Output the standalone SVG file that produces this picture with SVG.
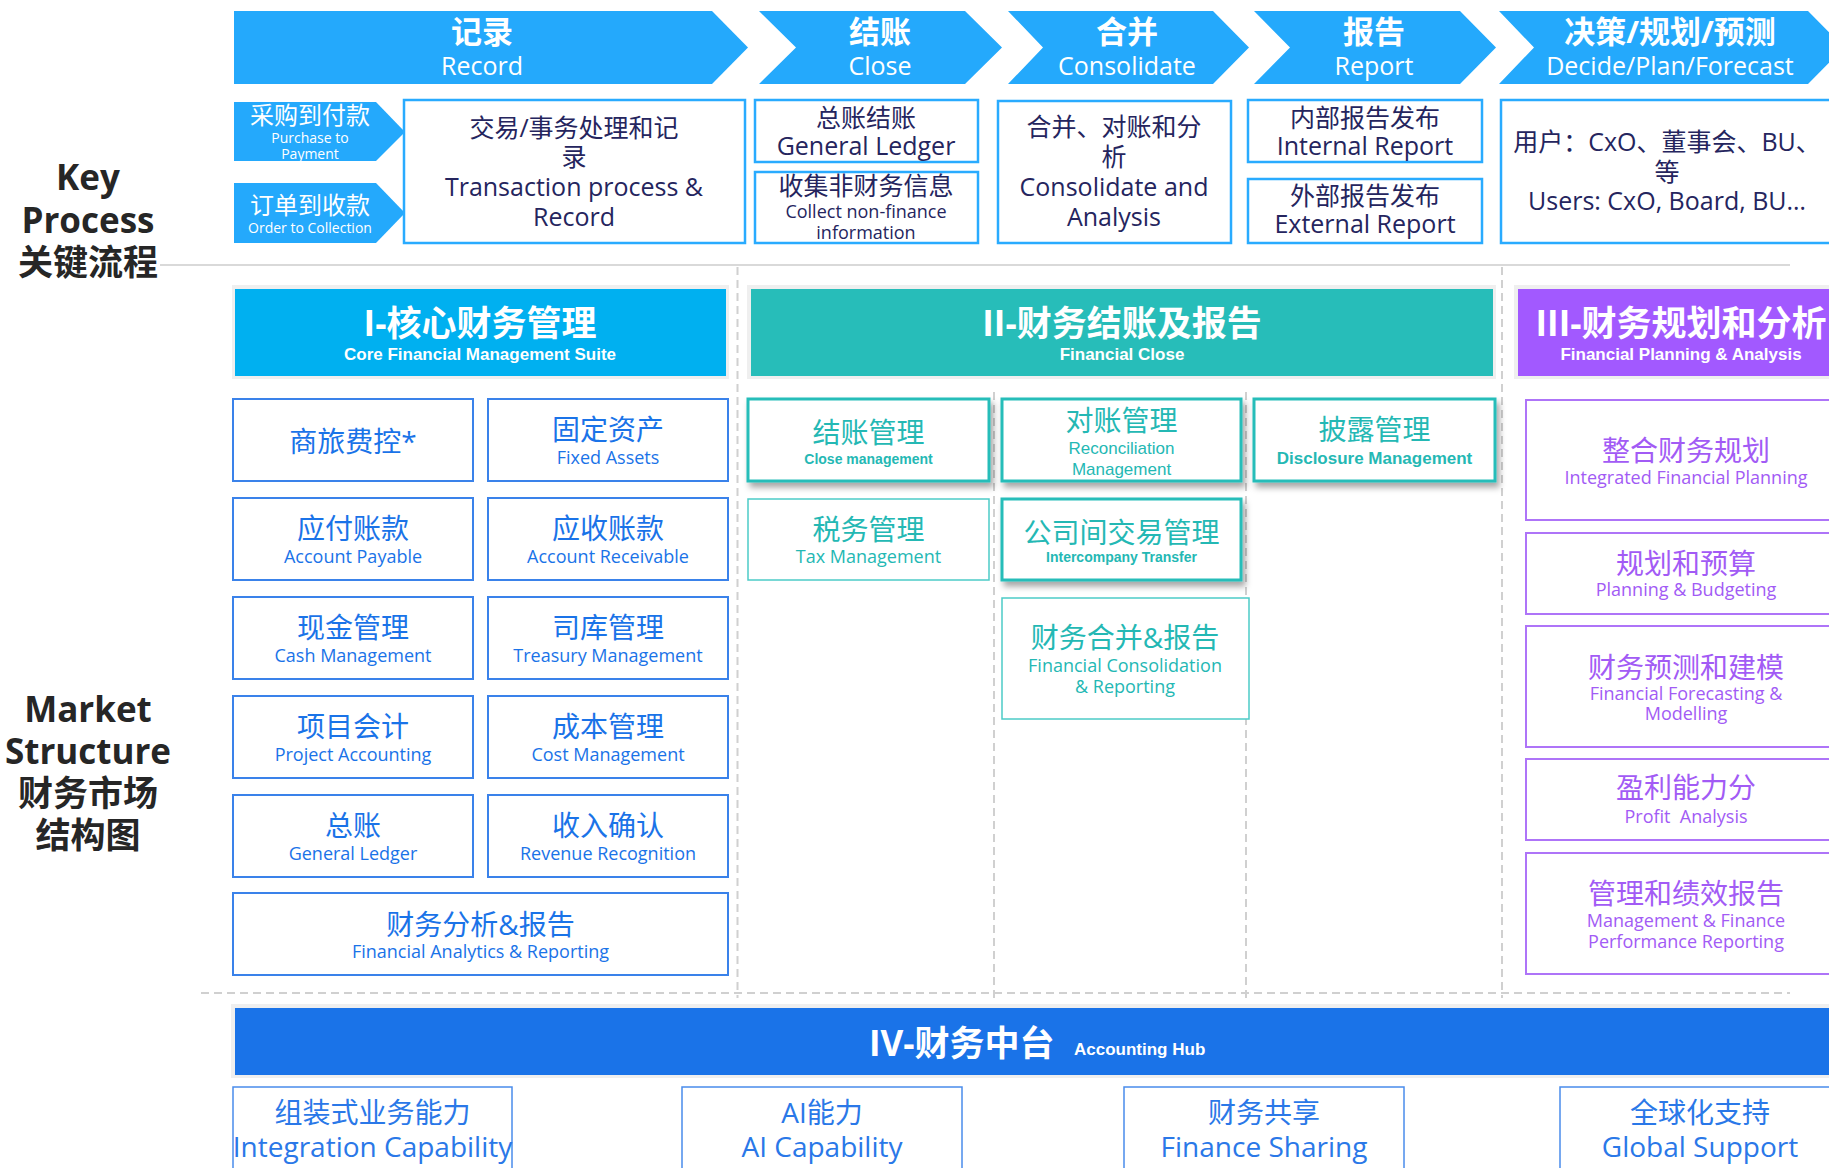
<svg xmlns="http://www.w3.org/2000/svg" width="1829" height="1168" viewBox="0 0 1829 1168">
<style>
text{font-family:"Open Sans","Noto Sans CJK SC",sans-serif;text-anchor:middle}
.lbl{font-weight:700;font-size:35px;fill:#262626}
.chev{fill:#24A9FC}
.ct{fill:#fff;font-weight:700;font-size:31px}
.ce{fill:#fff;font-size:25px}
.kbox{fill:#fff;stroke:#29ABFF;stroke-width:2.5}
.kt{fill:#25255E;font-size:25px}
.kt2{fill:#25255E;font-size:18px}
.rim{fill:#EFEFEF}
.ht{fill:#fff;font-weight:700;font-size:35px}
.hs{fill:#fff;font-weight:700;font-size:17px;font-family:"Liberation Sans",Arial,sans-serif}
.b1{fill:#fff;stroke:#3A82EA;stroke-width:2}
.t1{fill:#1A73E8;font-size:28px}
.e1{fill:#1A73E8;font-size:18px}
.b2{fill:#fff;stroke:#26BDB9;stroke-width:3}
.b2t{fill:#fff;stroke:#4CCBC7;stroke-width:1.5}
.t2{fill:#24B8B4;font-size:28px}
.e2{fill:#24B8B4;font-size:18px}
.a2{fill:#24B8B4;font-size:17px;font-family:"Liberation Sans",Arial,sans-serif}
.a2b{fill:#24B8B4;font-weight:700;font-family:"Liberation Sans",Arial,sans-serif}
.b3{fill:#fff;stroke:#AE74F8;stroke-width:2}
.t3{fill:#A25BF5;font-size:28px}
.e3{fill:#A25BF5;font-size:18px}
.b4{fill:#fff;stroke:#4A8CEB;stroke-width:1.5}
.t4{fill:#2A78E8;font-size:28px}
.dash{stroke:#D0D0D0;stroke-width:2;stroke-dasharray:8 5;fill:none}
</style>
<defs>
<filter id="sh" x="-10%" y="-15%" width="125%" height="150%">
<feDropShadow dx="3" dy="5" stdDeviation="3" flood-color="#000" flood-opacity="0.35"/>
</filter>
</defs>

<g id="connectors">
<line x1="160" y1="265" x2="1790" y2="265" stroke="#D9D9D9" stroke-width="2"/>
<line class="dash" x1="201" y1="993" x2="1790" y2="993"/>
<line class="dash" x1="737.5" y1="267" x2="737.5" y2="998"/>
<line class="dash" x1="1502" y1="267" x2="1502" y2="998"/>
<line class="dash" x1="994" y1="392" x2="994" y2="998"/>
<line class="dash" x1="1246" y1="392" x2="1246" y2="998"/>
</g>

<g id="label-key">
<text class="lbl" x="88" y="190">Key</text>
<text class="lbl" x="88" y="233">Process</text>
<text class="lbl" x="88" y="275">关键流程</text>
</g>
<g id="label-market">
<text class="lbl" x="88" y="722">Market</text>
<text class="lbl" x="88" y="764">Structure</text>
<text class="lbl" x="88" y="806">财务市场</text>
<text class="lbl" x="88" y="848">结构图</text>
</g>

<g id="chev-record">
<path class="chev" d="M234,11H712L748,47.5L712,84H234Z"/>
<text class="ct" x="482" y="43">记录</text>
<text class="ce" x="482" y="75">Record</text>
</g>
<g id="chev-close">
<path class="chev" d="M759,11H965L1002,47.5L965,84H759L796,47.5Z"/>
<text class="ct" x="880" y="43">结账</text>
<text class="ce" x="880" y="75">Close</text>
</g>
<g id="chev-consolidate">
<path class="chev" d="M1008,11H1213L1249,47.5L1213,84H1008L1043,47.5Z"/>
<text class="ct" x="1127" y="43">合并</text>
<text class="ce" x="1127" y="75">Consolidate</text>
</g>
<g id="chev-report">
<path class="chev" d="M1254,11H1460L1496,47.5L1460,84H1254L1290,47.5Z"/>
<text class="ct" x="1374" y="43">报告</text>
<text class="ce" x="1374" y="75">Report</text>
</g>
<g id="chev-decide">
<path class="chev" d="M1499,11H1808L1844,47.5L1808,84H1499L1534,47.5Z"/>
<text class="ct" x="1670" y="43">决策/规划/预测</text>
<text class="ce" x="1670" y="75">Decide/Plan/Forecast</text>
</g>

<g id="arrow-p2p">
<path class="chev" d="M234,102H376L405,132L376,161H234Z"/>
<text fill="#fff" font-size="24" x="310" y="124">采购到付款</text>
<text fill="#fff" font-size="14" x="310" y="143">Purchase to</text>
<text fill="#fff" font-size="14" x="310" y="159">Payment</text>
</g>
<g id="arrow-o2c">
<path class="chev" d="M234,183H376L405,213L376,243H234Z"/>
<text fill="#fff" font-size="24" x="310" y="214">订单到收款</text>
<text fill="#fff" font-size="14" x="310" y="233">Order to Collection</text>
</g>

<g id="kp-transaction">
<rect class="kbox" x="404" y="100" width="341" height="143"/>
<text class="kt" x="574" y="137">交易/事务处理和记</text>
<text class="kt" x="574" y="166">录</text>
<text class="kt" x="574" y="196">Transaction process &amp;</text>
<text class="kt" x="574" y="226">Record</text>
</g>
<g id="kp-gl">
<rect class="kbox" x="755" y="100" width="223" height="62"/>
<text class="kt" x="866" y="127" font-size="24">总账结账</text>
<text class="kt" x="866" y="155">General Ledger</text>
</g>
<g id="kp-collect">
<rect class="kbox" x="755" y="172" width="223" height="71"/>
<text class="kt" x="866" y="195" font-size="24">收集非财务信息</text>
<text class="kt2" x="866" y="218">Collect non-finance</text>
<text class="kt2" x="866" y="239">information</text>
</g>
<g id="kp-consolidate">
<rect class="kbox" x="998" y="101" width="233" height="142"/>
<text class="kt" x="1114" y="136">合并、对账和分</text>
<text class="kt" x="1114" y="166">析</text>
<text class="kt" x="1114" y="196">Consolidate and</text>
<text class="kt" x="1114" y="226">Analysis</text>
</g>
<g id="kp-internal">
<rect class="kbox" x="1248" y="100" width="234" height="62"/>
<text class="kt" x="1365" y="127" font-size="24">内部报告发布</text>
<text class="kt" x="1365" y="155" font-size="24">Internal Report</text>
</g>
<g id="kp-external">
<rect class="kbox" x="1248" y="179" width="234" height="64"/>
<text class="kt" x="1365" y="205" font-size="24">外部报告发布</text>
<text class="kt" x="1365" y="233" font-size="24">External Report</text>
</g>
<g id="kp-users">
<rect class="kbox" x="1501" y="100" width="345" height="143"/>
<text class="kt" x="1667" y="151" font-size="24">用户：CxO、董事会、BU、</text>
<text class="kt" x="1667" y="181" font-size="24">等</text>
<text class="kt" x="1667" y="210" font-size="24">Users: CxO, Board, BU…</text>
</g>

<g id="hdr-I">
<rect class="rim" x="232" y="285" width="497" height="94"/>
<rect fill="#00B0F0" x="235" y="289" width="491" height="87"/>
<text class="ht" x="480" y="336">I-核心财务管理</text>
<text class="hs" x="480" y="360">Core Financial Management Suite</text>
</g>
<g id="hdr-II">
<rect class="rim" x="747" y="285" width="749" height="94"/>
<rect fill="#27BDB9" x="751" y="289" width="742" height="87"/>
<text class="ht" x="1122" y="336">II-财务结账及报告</text>
<text class="hs" x="1122" y="360">Financial Close</text>
</g>
<g id="hdr-III">
<rect class="rim" x="1514" y="285" width="330" height="94"/>
<rect fill="#A259FF" x="1518" y="289" width="330" height="87"/>
<text class="ht" x="1681" y="336">III-财务规划和分析</text>
<text class="hs" x="1681" y="360">Financial Planning &amp; Analysis</text>
</g>

<g id="n-travel"><rect class="b1" x="233" y="399" width="240" height="82"/><text class="t1" x="353" y="452">商旅费控*</text></g>
<g id="n-fa"><rect class="b1" x="488" y="399" width="240" height="82"/><text class="t1" x="608" y="440">固定资产</text><text class="e1" x="608" y="464">Fixed Assets</text></g>
<g id="n-ap"><rect class="b1" x="233" y="498" width="240" height="82"/><text class="t1" x="353" y="539">应付账款</text><text class="e1" x="353" y="563">Account Payable</text></g>
<g id="n-ar"><rect class="b1" x="488" y="498" width="240" height="82"/><text class="t1" x="608" y="539">应收账款</text><text class="e1" x="608" y="563">Account Receivable</text></g>
<g id="n-cash"><rect class="b1" x="233" y="597" width="240" height="82"/><text class="t1" x="353" y="638">现金管理</text><text class="e1" x="353" y="662">Cash Management</text></g>
<g id="n-treasury"><rect class="b1" x="488" y="597" width="240" height="82"/><text class="t1" x="608" y="638">司库管理</text><text class="e1" x="608" y="662">Treasury Management</text></g>
<g id="n-project"><rect class="b1" x="233" y="696" width="240" height="82"/><text class="t1" x="353" y="737">项目会计</text><text class="e1" x="353" y="761">Project Accounting</text></g>
<g id="n-cost"><rect class="b1" x="488" y="696" width="240" height="82"/><text class="t1" x="608" y="737">成本管理</text><text class="e1" x="608" y="761">Cost Management</text></g>
<g id="n-gl"><rect class="b1" x="233" y="795" width="240" height="82"/><text class="t1" x="353" y="836">总账</text><text class="e1" x="353" y="860">General Ledger</text></g>
<g id="n-rev"><rect class="b1" x="488" y="795" width="240" height="82"/><text class="t1" x="608" y="836">收入确认</text><text class="e1" x="608" y="860">Revenue Recognition</text></g>
<g id="n-far"><rect class="b1" x="233" y="893" width="495" height="82"/><text class="t1" x="480.5" y="935">财务分析&amp;报告</text><text class="e1" x="480.5" y="958">Financial Analytics &amp; Reporting</text></g>

<g id="n-closem"><rect class="b2" x="748" y="399" width="241" height="82" filter="url(#sh)"/><text class="t2" x="868.5" y="443">结账管理</text><text class="a2b" font-size="14" x="868.5" y="464">Close management</text></g>
<g id="n-recon"><rect class="b2" x="1002" y="399" width="239" height="82" filter="url(#sh)"/><text class="t2" x="1121.5" y="431">对账管理</text><text class="a2" x="1121.5" y="454">Reconciliation</text><text class="a2" x="1121.5" y="475">Management</text></g>
<g id="n-disc"><rect class="b2" x="1254" y="399" width="241" height="82" filter="url(#sh)"/><text class="t2" x="1374.5" y="440">披露管理</text><text class="a2b" font-size="17" x="1374.5" y="464">Disclosure Management</text></g>
<g id="n-tax"><rect class="b2t" x="748" y="499" width="241" height="81"/><text class="t2" x="868.5" y="540">税务管理</text><text class="e2" x="868.5" y="563">Tax Management</text></g>
<g id="n-ic"><rect class="b2" x="1002" y="499" width="239" height="81" filter="url(#sh)"/><text class="t2" x="1121.5" y="543">公司间交易管理</text><text class="a2b" font-size="14" x="1121.5" y="562">Intercompany Transfer</text></g>
<g id="n-fcr"><rect class="b2t" x="1002" y="598" width="247" height="121"/><text class="t2" x="1125" y="648">财务合并&amp;报告</text><text class="e2" x="1125" y="672">Financial Consolidation</text><text class="e2" x="1125" y="693">&amp; Reporting</text></g>

<g id="n-ifp"><rect class="b3" x="1526" y="400" width="320" height="120"/><text class="t3" x="1686" y="461">整合财务规划</text><text class="e3" x="1686" y="484">Integrated Financial Planning</text></g>
<g id="n-pb"><rect class="b3" x="1526" y="533" width="320" height="81"/><text class="t3" x="1686" y="574">规划和预算</text><text class="e3" x="1686" y="596">Planning &amp; Budgeting</text></g>
<g id="n-ffm"><rect class="b3" x="1526" y="626" width="320" height="121"/><text class="t3" x="1686" y="678">财务预测和建模</text><text class="e3" x="1686" y="700">Financial Forecasting &amp;</text><text class="e3" x="1686" y="720">Modelling</text></g>
<g id="n-pa"><rect class="b3" x="1526" y="759" width="320" height="81"/><text class="t3" x="1686" y="798">盈利能力分</text><text class="e3" x="1686" y="823" font-size="20" style="white-space:pre">Profit  Analysis</text></g>
<g id="n-mfpr"><rect class="b3" x="1526" y="853" width="320" height="121"/><text class="t3" x="1686" y="904">管理和绩效报告</text><text class="e3" x="1686" y="927">Management &amp; Finance</text><text class="e3" x="1686" y="948">Performance Reporting</text></g>

<g id="hdr-IV">
<rect class="rim" x="231" y="1004" width="1615" height="74"/>
<rect fill="#1A73E8" x="235" y="1008" width="1611" height="67"/>
<text class="ht" x="869" y="1056" style="text-anchor:start">IV-财务中台</text>
<text class="hs" x="1074" y="1055" font-size="17.5" style="text-anchor:start">Accounting Hub</text>
</g>

<g id="n-integ"><rect class="b4" x="233" y="1087" width="279" height="100"/><text class="t4" x="372.5" y="1123">组装式业务能力</text><text class="t4" x="372.5" y="1157" font-size="27.5">Integration Capability</text></g>
<g id="n-ai"><rect class="b4" x="682" y="1087" width="280" height="100"/><text class="t4" x="822" y="1123">AI能力</text><text class="t4" x="822" y="1157">AI Capability</text></g>
<g id="n-fs"><rect class="b4" x="1124" y="1087" width="280" height="100"/><text class="t4" x="1264" y="1123">财务共享</text><text class="t4" x="1264" y="1157">Finance Sharing</text></g>
<g id="n-gs"><rect class="b4" x="1560" y="1087" width="280" height="100"/><text class="t4" x="1700" y="1123">全球化支持</text><text class="t4" x="1700" y="1157">Global Support</text></g>
</svg>
